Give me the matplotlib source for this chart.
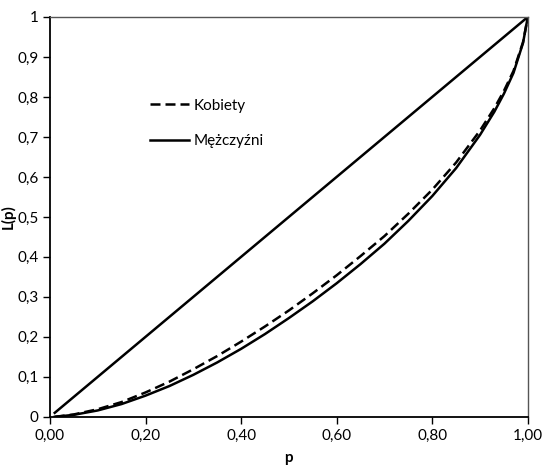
import numpy as np
import matplotlib.pyplot as plt
from matplotlib.ticker import FixedLocator

plt.rcParams['font.family'] = ['Lato', 'DejaVu Sans']

# udzial populacji (p) i krzywe Lorenza L(p)
p = [0.01, 0.05, 0.10, 0.15, 0.20, 0.25, 0.30, 0.35, 0.40, 0.45, 0.50, 0.55,
     0.60, 0.65, 0.70, 0.75, 0.80, 0.85, 0.90, 0.93, 0.95, 0.97, 0.99, 1.00]
kobiety = [0.0, 0.006, 0.019, 0.037, 0.061, 0.088, 0.119, 0.152, 0.188, 0.226, 0.266, 0.309,
           0.354, 0.402, 0.452, 0.508, 0.568, 0.636, 0.716, 0.772, 0.815, 0.865, 0.937, 1.0]
mezczyzni = [0.0, 0.005, 0.016, 0.032, 0.053, 0.077, 0.105, 0.136, 0.170, 0.207, 0.247, 0.289,
             0.334, 0.382, 0.433, 0.490, 0.552, 0.622, 0.705, 0.763, 0.808, 0.860, 0.935, 1.0]
rownosc_p = [0.01, 1.00]
rownosc = [0.01, 1.00]

xticks = [0.0, 0.2, 0.4, 0.6, 0.8, 1.0]
xlabels = ['0,00', '0,20', '0,40', '0,60', '0,80', '1,00']
yticks = [0.0, 0.1, 0.2, 0.3, 0.4, 0.5, 0.6, 0.7, 0.8, 0.9, 1.0]
ylabels = ['0', '0,1', '0,2', '0,3', '0,4', '0,5', '0,6', '0,7', '0,8', '0,9', '1']

fig = plt.figure(figsize=(5.55, 4.71), dpi=100)
ax = fig.add_axes([0.09, 0.115, 0.861, 0.849])

ax.plot(rownosc_p, rownosc, color='black', lw=1.8)
ax.plot(p, kobiety, color='black', lw=1.8, linestyle=(0, (4, 2)), label='Kobiety')
ax.plot(p, mezczyzni, color='black', lw=1.8, label='Mężczyźni')

ax.set_xlim(0, 1)
ax.set_ylim(0, 1)
ax.xaxis.set_major_locator(FixedLocator(xticks))
ax.yaxis.set_major_locator(FixedLocator(yticks))
ax.set_xticklabels(xlabels)
ax.set_yticklabels(ylabels)
ax.tick_params(direction='out', length=5, width=1, labelsize=11, colors='black')
ax.tick_params(axis='y', pad=3)

for s in ['left', 'bottom']:
    ax.spines[s].set_linewidth(1.3)
    ax.spines[s].set_color('black')
for s in ['top', 'right']:
    ax.spines[s].set_linewidth(1.0)
    ax.spines[s].set_color('#555555')

ax.set_xlabel('p', fontsize=11, fontweight='bold', labelpad=6)
ax.set_ylabel('L(p)', fontsize=11, fontweight='bold', labelpad=1)

ax.legend(loc='upper left', bbox_to_anchor=(0.18, 0.83), frameon=False,
          fontsize=11, handlelength=2.6, handletextpad=0.3, labelspacing=1.4)

fig.savefig('out.png', dpi=100)
